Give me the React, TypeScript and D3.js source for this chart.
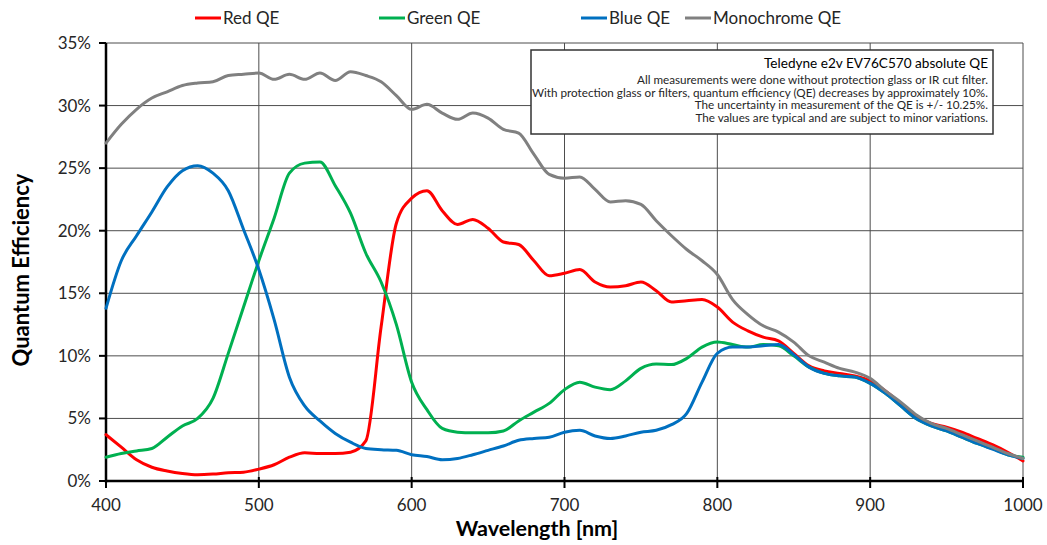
import React from "react";
import * as d3 from "d3";

const wavelengths = [400,410,420,430,440,450,460,470,480,490,500,510,520,530,540,550,560,570,580,590,600,610,620,630,640,650,660,670,680,690,700,710,720,730,740,750,760,770,780,790,800,810,820,830,840,850,860,870,880,890,900,910,920,930,940,950,960,970,980,990,1000];

const redQE = [3.7,2.7,1.7,1.1,0.8,0.6,0.5,0.55,0.65,0.7,0.95,1.3,1.9,2.25,2.2,2.2,2.3,3.2,12.3,20.6,22.6,23.2,21.6,20.5,20.9,20.2,19.1,18.9,17.6,16.4,16.6,16.9,15.9,15.5,15.6,15.9,15.2,14.3,14.4,14.5,13.9,12.7,12.0,11.5,11.2,10.2,9.2,8.8,8.6,8.4,8.0,7.2,6.2,5.2,4.6,4.3,3.9,3.4,2.9,2.3,1.6];

const greenQE = [1.9,2.2,2.4,2.6,3.5,4.4,5.0,6.6,10.2,13.9,17.6,21.0,24.6,25.4,25.5,23.6,21.4,18.2,15.9,12.5,7.9,5.7,4.2,3.9,3.85,3.85,4.0,4.8,5.5,6.2,7.3,7.9,7.5,7.3,8.0,9.0,9.35,9.3,9.8,10.7,11.1,10.9,10.7,10.9,10.8,10.0,9.1,8.6,8.4,8.3,7.8,7.0,6.0,5.0,4.4,4.0,3.5,3.0,2.6,2.1,1.9];

const blueQE = [13.8,17.6,19.6,21.5,23.5,24.8,25.2,24.6,23.2,20.1,16.9,12.9,8.3,6.0,4.8,3.8,3.1,2.6,2.5,2.45,2.1,1.95,1.7,1.8,2.1,2.45,2.8,3.25,3.4,3.5,3.9,4.05,3.6,3.4,3.6,3.9,4.05,4.5,5.4,7.9,10.2,10.7,10.7,10.8,10.9,10.1,9.1,8.6,8.4,8.3,7.8,7.0,6.0,5.0,4.4,4.0,3.5,3.0,2.55,2.1,1.8];

const monoQE = [27.0,28.5,29.7,30.6,31.1,31.6,31.8,31.9,32.4,32.5,32.6,32.1,32.5,32.1,32.6,32.0,32.7,32.4,31.9,30.8,29.7,30.1,29.4,28.9,29.4,29.0,28.1,27.8,26.1,24.5,24.2,24.3,23.3,22.3,22.4,22.1,20.8,19.6,18.5,17.6,16.5,14.5,13.3,12.4,11.9,11.1,10.0,9.5,9.0,8.7,8.2,7.2,6.3,5.3,4.6,4.2,3.7,3.2,2.7,2.2,1.8];

const seriesNames = ["Red QE", "Green QE", "Blue QE", "Monochrome QE"];
const seriesColors = ["#FF0000", "#00B050", "#0070C0", "#808080"];
const seriesValues = [redQE, greenQE, blueQE, monoQE];

const xTicks = [400, 500, 600, 700, 800, 900, 1000];
const yTicks = [0, 5, 10, 15, 20, 25, 30, 35];

const noteTitle = "Teledyne e2v EV76C570 absolute QE";
const noteLines = [
  "All measurements were done without protection glass or IR cut filter.",
  "With protection glass or filters, quantum efficiency (QE) decreases by approximately 10%.",
  "The uncertainty in measurement of the QE is +/- 10.25%.",
  "The values are typical and are subject to minor variations.",
];

const W = 1047, H = 545;
const left = 106, right = 1023, top = 43, bottom = 481;
const FONT = "Lato, 'Open Sans', sans-serif";

export default function App() {
  const x = d3.scaleLinear().domain([400, 1000]).range([left, right]);
  const y = d3.scaleLinear().domain([0, 35]).range([bottom, top]);
  const line = d3
    .line<[number, number]>()
    .x((d) => x(d[0]))
    .y((d) => y(d[1]))
    .curve(d3.curveMonotoneX);

  const legendX = [195, 379, 581, 685];

  return (
    <svg width={W} height={H} style={{ position: "absolute", left: 0, top: 0, background: "#fff" }} fontFamily={FONT}>
      <rect x={0} y={0} width={W} height={H} fill="#fff" />
      {/* grid */}
      {yTicks.map((t) => (
        <line key={"gy" + t} x1={left} x2={right} y1={y(t)} y2={y(t)} stroke="#4d4d4d" strokeWidth={1} />
      ))}
      {xTicks.map((t) => (
        <line key={"gx" + t} x1={x(t)} x2={x(t)} y1={top} y2={bottom} stroke="#4d4d4d" strokeWidth={1} />
      ))}
      {/* axes */}
      <line x1={left} x2={left} y1={top} y2={bottom + 1.5} stroke="#000" strokeWidth={2.5} />
      <line x1={left - 1} x2={right + 1} y1={bottom} y2={bottom} stroke="#000" strokeWidth={2.5} />
      {yTicks.map((t) => (
        <line key={"ty" + t} x1={left - 7} x2={left} y1={y(t)} y2={y(t)} stroke="#000" strokeWidth={2} />
      ))}
      {xTicks.map((t) => (
        <line key={"tx" + t} x1={x(t)} x2={x(t)} y1={bottom - 4} y2={bottom + 7} stroke="#000" strokeWidth={2} />
      ))}
      {/* tick labels */}
      {yTicks.map((t) => (
        <text key={"ly" + t} x={91} y={y(t)} dy="0.35em" textAnchor="end" fontSize={17} fill="#262626">
          {t + "%"}
        </text>
      ))}
      {xTicks.map((t) => (
        <text key={"lx" + t} x={x(t)} y={511} textAnchor="middle" fontSize={17} fill="#262626">
          {t}
        </text>
      ))}
      {/* axis titles */}
      <text x={537} y={536} textAnchor="middle" fontSize={21.5} fontWeight="bold" fill="#000">
        Wavelength [nm]
      </text>
      <text
        transform={`translate(29,270) rotate(-90)`}
        textAnchor="middle"
        fontSize={22}
        fontWeight="bold"
        fill="#000"
      >
        Quantum Efficiency
      </text>
      {/* series */}
      {seriesValues.map((vals, i) => (
        <path
          key={seriesNames[i]}
          d={line(wavelengths.map((w, j) => [w, vals[j]] as [number, number])) || ""}
          fill="none"
          stroke={seriesColors[i]}
          strokeWidth={3}
          strokeLinejoin="round"
          strokeLinecap="round"
        />
      ))}
      {/* legend */}
      {seriesNames.map((n, i) => (
        <g key={"lg" + n}>
          <line x1={legendX[i]} x2={legendX[i] + 26} y1={18} y2={18} stroke={seriesColors[i]} strokeWidth={3} />
          <text x={legendX[i] + 28} y={18} dy="0.35em" fontSize={17} fill="#262626">
            {n}
          </text>
        </g>
      ))}
      {/* annotation box */}
      <rect x={531} y={50} width={462} height={84} fill="#fff" stroke="#333" strokeWidth={1.5} />
      <text x={988} y={68} textAnchor="end" fontSize={13.6} fill="#000">
        {noteTitle}
      </text>
      {noteLines.map((l, i) => (
        <text key={"n" + i} x={988} y={84 + i * 12.7} textAnchor="end" fontSize={11.7} fill="#262626">
          {l}
        </text>
      ))}
    </svg>
  );
}
